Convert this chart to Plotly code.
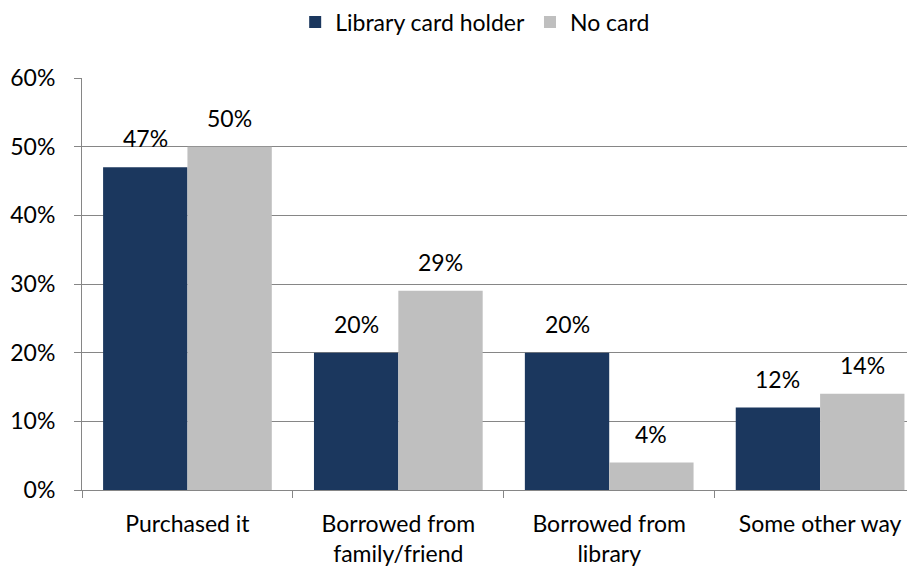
import plotly.graph_objects as go

categories = ["Purchased it", "Borrowed from<br>family/friend", "Borrowed from<br>library", "Some other way"]
card_holder = [47, 20, 20, 12]
no_card = [50, 29, 4, 14]
y_ticks = [0, 10, 20, 30, 40, 50, 60]
y_tick_labels = ["0%", "10%", "20%", "30%", "40%", "50%", "60%"]

FONT = "Lato"
SIZE = 23
X_RANGE = [-0.5, 3.45]
PLOT_W = 915 - 74 - 8
cat_px = PLOT_W / (X_RANGE[1] - X_RANGE[0])
bar_half = cat_px * 0.8 / 4  # half of one bar's width (two bars in 80% of a category)

fig = go.Figure()
fig.add_trace(go.Bar(
    name="Library card holder", x=categories, y=card_holder,
    marker=dict(color="#1b375e", line=dict(width=0)),
))
fig.add_trace(go.Bar(
    name="No card", x=categories, y=no_card,
    marker=dict(color="#bfbfbf", line=dict(width=0)),
))

for series, shift in ((card_holder, -bar_half), (no_card, bar_half)):
    for cat, v in zip(categories, series):
        fig.add_annotation(
            x=cat, y=v, xref="x", yref="y", text=f"{v}%", showarrow=False,
            xshift=shift, yshift=13, yanchor="bottom", xanchor="center",
            font=dict(size=SIZE, family=FONT, color="#000000"),
        )

fig.update_layout(
    width=915, height=569,
    margin=dict(l=74, r=8, t=70, b=87, autoexpand=False),
    paper_bgcolor="white", plot_bgcolor="white",
    barmode="group", bargap=0.2, bargroupgap=0,
    font=dict(family=FONT, size=SIZE, color="#000000"),
    legend=dict(orientation="h", x=0.472, xanchor="center", y=1.136, yanchor="middle",
                font=dict(size=SIZE, family=FONT), itemwidth=30, traceorder="normal"),
)
fig.update_xaxes(
    range=X_RANGE, showline=True, linecolor="#868686", linewidth=1,
    ticks="outside", tickson="boundaries", ticklen=7, tickcolor="#868686",
    showgrid=False, tickfont=dict(size=SIZE, family=FONT), automargin=False,
    ticklabelstandoff=13,
)
fig.update_yaxes(
    range=[0, 60], tickmode="array", tickvals=y_ticks, ticktext=y_tick_labels,
    showline=True, linecolor="#868686", linewidth=1,
    ticks="outside", ticklen=7, tickcolor="#868686",
    showgrid=True, gridcolor="#868686", gridwidth=1,
    zeroline=False, tickfont=dict(size=SIZE, family=FONT), automargin=False,
    ticklabelstandoff=14,
)

fig.write_html("out.html")
